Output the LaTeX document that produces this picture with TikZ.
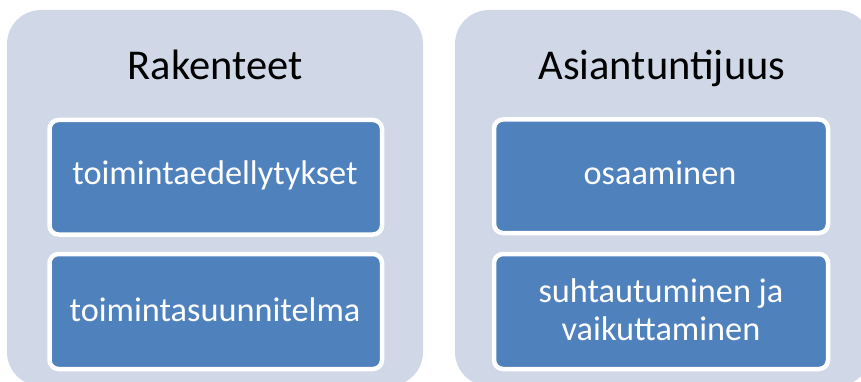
\documentclass[tikz,border=0pt]{standalone}
\usepackage{fontspec}
\setmainfont{Carlito}
\definecolor{panelbg}{HTML}{D0D8E8}
\definecolor{itemblue}{HTML}{4F81BD}
\tikzset{
  panel/.style={fill=panelbg, draw=none, rounded corners=34pt},
  item/.style={fill=itemblue, draw=white, line width=4.5pt, rounded corners=9pt},
  ttl/.style={anchor=base, inner sep=0pt, font=\fontsize{42.5}{50}\selectfont, text=black},
  itxt/.style={anchor=base, inner sep=0pt, font=\fontsize{34.3}{40}\selectfont, text=white},
}
\begin{document}
\begin{tikzpicture}[x=1pt,y=-1pt]
\useasboundingbox (0,0) rectangle (861,382);
\begin{scope}
\clip (0,0) rectangle (861,382);
\node[panel, minimum width=416pt, minimum height=376pt] (L) at (215,198) {};
\node[panel, minimum width=416pt, minimum height=376pt] (R) at (663,198) {};
\end{scope}
\node[ttl] (Lt) at (215,80) {Rakenteet};
\node[ttl] (Rt) at (662,80) {Asiantuntijuus};
\node[item, minimum width=332.5pt, minimum height=114.5pt] (L1) at (215.75,177.25) {};
\node[item, minimum width=332.5pt, minimum height=115pt] (L2) at (215.75,311.5) {};
\node[item, minimum width=334pt, minimum height=113.5pt] (R1) at (661,176.25) {};
\node[item, minimum width=334pt, minimum height=115pt] (R2) at (661,311.5) {};
\node[itxt] (L1t) at (215,185) {toimintaedellytykset};
\node[itxt] (L2t) at (215,321.5) {toimintasuunnitelma};
\node[itxt] (R1t) at (660,185) {osaaminen};
\node[itxt] (R2a) at (661,302.5) {suhtautuminen ja};
\node[itxt] (R2b) at (661,340) {vaikuttaminen};
\end{tikzpicture}
\end{document}
